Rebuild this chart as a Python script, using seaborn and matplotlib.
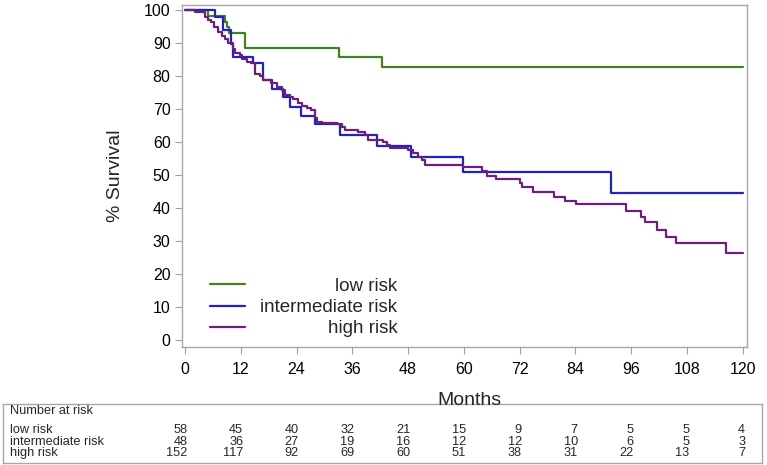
import numpy as np
import pandas as pd
import matplotlib
matplotlib.use("Agg")
import matplotlib.pyplot as plt
import matplotlib.transforms as mtransforms
from matplotlib import font_manager as fm
import seaborn as sns

# ---------------- data ----------------
low_t = [0, 5.0, 8.6, 9.0, 9.5, 12.9, 33.1, 42.4, 120]
low_s = [100, 98.3, 96.5, 94.8, 92.9, 88.6, 85.9, 82.8, 82.8]

mid_t = [0, 6.5, 8.2, 10.0, 10.3, 14.6, 16.8, 18.8, 21.1, 22.6, 24.9, 28.0,
         33.3, 41.4, 48.7, 59.9, 91.6, 120]
mid_s = [100, 97.9, 93.8, 89.6, 85.9, 83.8, 78.8, 76.0, 73.7, 70.7, 68.0, 65.5,
         62.1, 58.9, 55.4, 50.8, 44.7, 44.7]

high_t = [0, 2.2, 4.3, 5.0, 5.7, 6.2, 7.2, 7.9, 8.6, 9.3, 10.4, 10.8, 11.8, 12.2,
          13.3, 14.3, 15.0, 16.1, 16.8, 18.6, 19.7, 20.8, 21.5, 22.6, 23.3, 24.4,
          25.1, 26.2, 27.2, 27.9, 28.3, 29.4, 32.6, 33.7, 34.4, 37.3, 38.7, 39.4,
          42.7, 43.4, 44.1, 48.0, 49.1, 50.2, 50.9, 51.6, 59.9, 63.8, 64.9, 66.9,
          72.0, 72.6, 74.8, 79.4, 81.7, 84.1, 94.8, 98.2, 98.9, 101.6, 103.4,
          105.6, 116.3, 120]
high_s = [100, 99.3, 98.0, 97.0, 96.2, 94.9, 93.4, 92.1, 91.1, 90.1, 88.1, 87.1,
          86.4, 85.1, 84.3, 83.8, 80.6, 80.0, 78.8, 77.8, 76.6, 75.8, 74.2, 73.7,
          72.9, 71.9, 70.9, 70.2, 69.7, 67.2, 66.2, 65.9, 65.5, 64.6, 63.6, 63.1,
          62.1, 60.6, 60.1, 59.1, 58.1, 57.6, 56.6, 55.6, 54.5, 53.0, 52.3, 51.3,
          49.7, 48.7, 47.7, 46.3, 44.8, 43.4, 42.1, 41.1, 39.1, 37.4, 35.7, 33.3,
          31.3, 29.3, 26.3, 26.3]

groups = ["low risk", "intermediate risk", "high risk"]
colors = ["#43801f", "#2222c4", "#6c1f7c"]

x_ticks = [0, 12, 24, 36, 48, 60, 72, 84, 96, 108, 120]
y_ticks = [0, 10, 20, 30, 40, 50, 60, 70, 80, 90, 100]

risk_low = [58, 45, 40, 32, 21, 15, 9, 7, 5, 5, 4]
risk_mid = [48, 36, 27, 19, 16, 12, 12, 10, 6, 5, 3]
risk_high = [152, 117, 92, 69, 60, 51, 38, 31, 22, 13, 7]

# ---------------- build long table ----------------
frames = []
for g, t, s in zip(groups, [low_t, mid_t, high_t], [low_s, mid_s, high_s]):
    frames.append(pd.DataFrame({"Months": t, "Survival": s, "group": g}))
df = pd.concat(frames, ignore_index=True)

sns.set_style("white")
plt.rcParams["font.family"] = ["Liberation Sans", "DejaVu Sans"]

W, H = 767, 465
fig = plt.figure(figsize=(W / 100, H / 100), dpi=100)

# axes box in pixels
L, R, T, B = 181.7, 747.0, 5.0, 346.7
ax = fig.add_axes([L / W, 1 - B / H, (R - L) / W, (B - T) / H])

sns.lineplot(data=df, x="Months", y="Survival", hue="group", hue_order=groups,
             palette=colors, estimator=None, sort=False, drawstyle="steps-post",
             linewidth=1.6, legend=False, ax=ax)

ax.set_xlim(-0.7, 120.9)
ax.set_ylim(-2.0, 101.5)
ax.set_xticks(x_ticks)
ax.set_yticks(y_ticks)
ax.set_xticklabels([str(v) for v in x_ticks], fontsize=11.5)
ax.set_yticklabels([str(v) for v in y_ticks], fontsize=11.5)
ax.tick_params(axis="both", which="major", direction="out", length=5, width=0.8,
               color="#a0a0a0", labelcolor="black", left=True, bottom=True)
ax.tick_params(axis="x", pad=6)
ax.tick_params(axis="y", pad=3)
for sp in ax.spines.values():
    sp.set_color("#a8a8a8")
    sp.set_linewidth(1.0)

ax.set_ylabel("% Survival", fontsize=14)
ax.yaxis.set_label_coords(-(L - 115) / (R - L), 0.5)
ax.yaxis.label.set_va("center")
ax.set_xlabel("Months", fontsize=14)
ax.xaxis.set_label_coords((469 - L) / (R - L), -(400 - B) / (B - T))
ax.xaxis.label.set_va("center")

# legend with right-aligned labels
handles = ax.get_lines()[:3]
leg = ax.legend(handles, groups, loc="lower left", bbox_to_anchor=(0.033, 0.0),
                frameon=False, fontsize=13.5, handlelength=1.9,
                handletextpad=0.8, labelspacing=0.22, borderpad=0.0)
fig.canvas.draw()
renderer = fig.canvas.get_renderer()
widths = [t.get_window_extent(renderer).width for t in leg.get_texts()]
shift = max(widths)
for t, w in zip(leg.get_texts(), widths):
    t.set_position((shift - w, 0))

# ---------------- number at risk table ----------------
tb_top, tb_bot, tb_l, tb_r = 403.5, 462.5, 3.0, 762.0
tab = fig.add_axes([tb_l / W, 1 - tb_bot / H, (tb_r - tb_l) / W, (tb_bot - tb_top) / H])
tab.set_xticks([])
tab.set_yticks([])
tab.patch.set_alpha(0)
for sp in tab.spines.values():
    sp.set_color("#a8a8a8")
    sp.set_linewidth(1.0)
tab.set_zorder(-1)

try:
    fm.findfont(fm.FontProperties(family="Liberation Sans Narrow"),
                fallback_to_default=False)
    tfont = dict(family=["Liberation Sans Narrow", "DejaVu Sans"], fontsize=11.0)
except Exception:
    tfont = dict(family=["Liberation Sans", "DejaVu Sans"], fontsize=9.2)

fig.text(10 / W, 1 - 410.5 / H, "Number at risk", ha="left", va="center", **tfont)
row_y = [430.0, 441.5, 453.0]
blend = mtransforms.blended_transform_factory(ax.transData, fig.transFigure)
for name, vals, yy in zip(groups, [risk_low, risk_mid, risk_high], row_y):
    fig.text(10 / W, 1 - yy / H, name, ha="left", va="center", **tfont)
    for xt, v in zip(x_ticks, vals):
        fig.text(xt + 0.5, 1 - yy / H, str(v), ha="right", va="center",
                 transform=blend, **tfont)

fig.savefig("out.png", dpi=100)
